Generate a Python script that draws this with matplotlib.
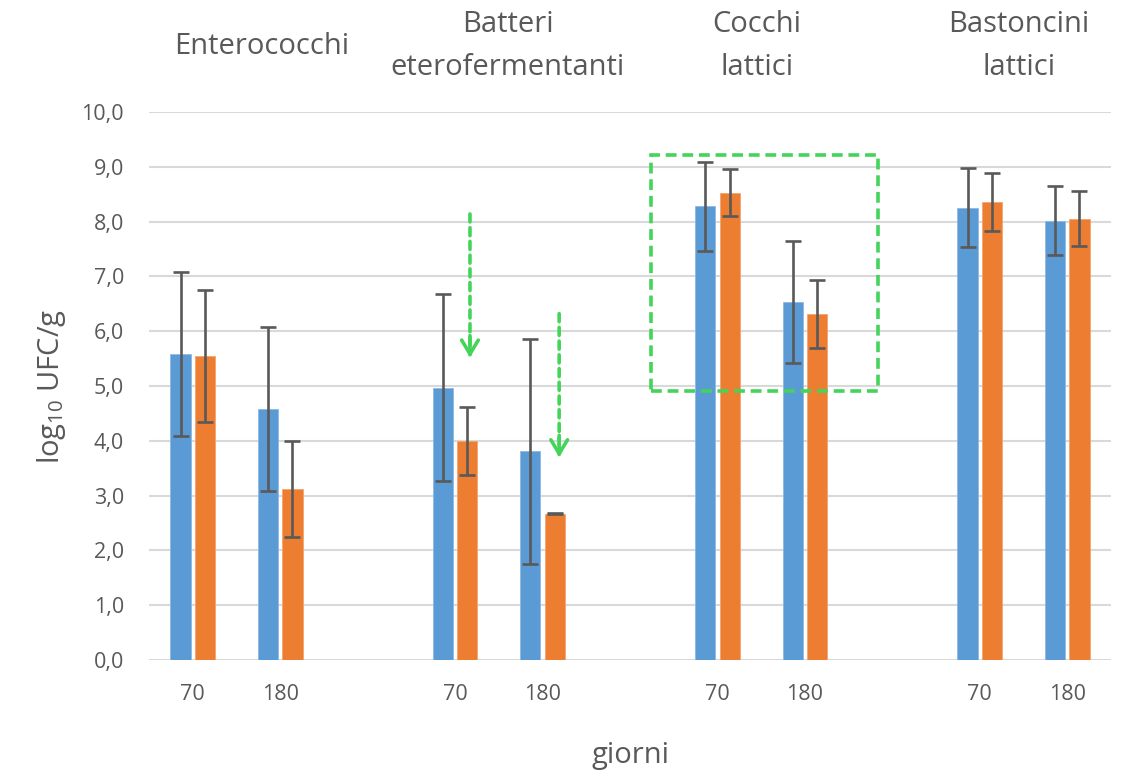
import numpy as np
import matplotlib.pyplot as plt
from matplotlib.patches import Rectangle

plt.rcParams['font.family'] = ['Open Sans', 'DejaVu Sans']
plt.rcParams['mathtext.default'] = 'regular'

# dati
gruppi = ['Enterococchi', 'Batteri\neterofermentanti', 'Cocchi\nlattici', 'Bastoncini\nlattici']
giorni = ['70', '180']
blu     = [5.58, 4.58, 4.97, 3.81, 8.28, 6.53, 8.25, 8.02]
blu_err = [1.50, 1.50, 1.71, 2.05, 0.81, 1.11, 0.72, 0.63]
ara     = [5.55, 3.12, 4.00, 2.67, 8.53, 6.32, 8.36, 8.05]
ara_err = [1.20, 0.87, 0.62, 0.01, 0.43, 0.62, 0.53, 0.50]

grigio = '#595959'
verde = '#44D45A'

# posizioni: 2 barre per gruppo + una categoria vuota tra i gruppi
pos = np.array([g*3 + j for g in range(len(gruppi)) for j in range(len(giorni))])
etichette = [giorni[j] for g in range(len(gruppi)) for j in range(len(giorni))]

fig = plt.figure(figsize=(11.24, 7.78), dpi=100)
ax = fig.add_axes([0.1326, 0.1517, 0.8558, 0.7043])

w = 0.23
off = 0.14
ekw = dict(ecolor=grigio, elinewidth=1.9, capsize=5.5, capthick=1.9)
ax.bar(pos - off, blu, w, yerr=blu_err, color='#5B9BD5', edgecolor='#8DB9E4', lw=0.6, error_kw=ekw, zorder=3)
ax.bar(pos + off, ara, w, yerr=ara_err, color='#ED7D31', edgecolor='#F3A46F', lw=0.6, error_kw=ekw, zorder=3)

ax.set_xlim(-0.5, 10.5)
ax.set_ylim(0, 10)
ax.set_yticks(np.arange(0, 10.01, 1))
ax.set_yticklabels([('%.1f' % v).replace('.', ',') for v in np.arange(0, 10.01, 1)])
ax.set_xticks(pos)
ax.set_xticklabels(etichette)
ax.tick_params(length=0, labelsize=15.5, colors=grigio)
ax.tick_params(axis='x', pad=17)
ax.tick_params(axis='y', pad=18)
ax.grid(axis='y', color='#D9D9D9', lw=1.5, zorder=0)
ax.set_axisbelow(True)
for s in ax.spines.values():
    s.set_visible(False)

ax.set_ylabel('log$_{10}$ UFC/g', fontsize=21, color=grigio, labelpad=10)
ax.set_xlabel('giorni', fontsize=21, color=grigio, labelpad=26)

# titoli dei gruppi
tit_x = [0.79, 3.6, 6.45, 9.45]
for g, t in enumerate(gruppi):
    ax.text(tit_x[g], 11.2, t, ha='center', va='center', fontsize=21,
            color=grigio, linespacing=1.62)

# frecce tratteggiate
frecce = [(3.17, 8.19, 5.47), (4.19, 6.37, 3.65)]
for x, y0, y1 in frecce:
    ax.annotate('', xy=(x, y1 + 0.05), xytext=(x, y0),
                arrowprops=dict(arrowstyle='-', color=verde, lw=2.6, ls=(0, (2.2, 1.6))), zorder=5)
    ax.annotate('', xy=(x, y1), xytext=(x, y1 + 0.5),
                arrowprops=dict(arrowstyle='->,head_length=1.0,head_width=0.6', color=verde, lw=2.6), zorder=5)

# riquadro cocchi lattici
ax.add_patch(Rectangle((5.24, 4.91), 2.6, 4.3, fill=False, ec=verde, lw=2.6,
                       ls=(0, (3, 1.6)), zorder=5, clip_on=False))

plt.savefig('out.png', dpi=100)
